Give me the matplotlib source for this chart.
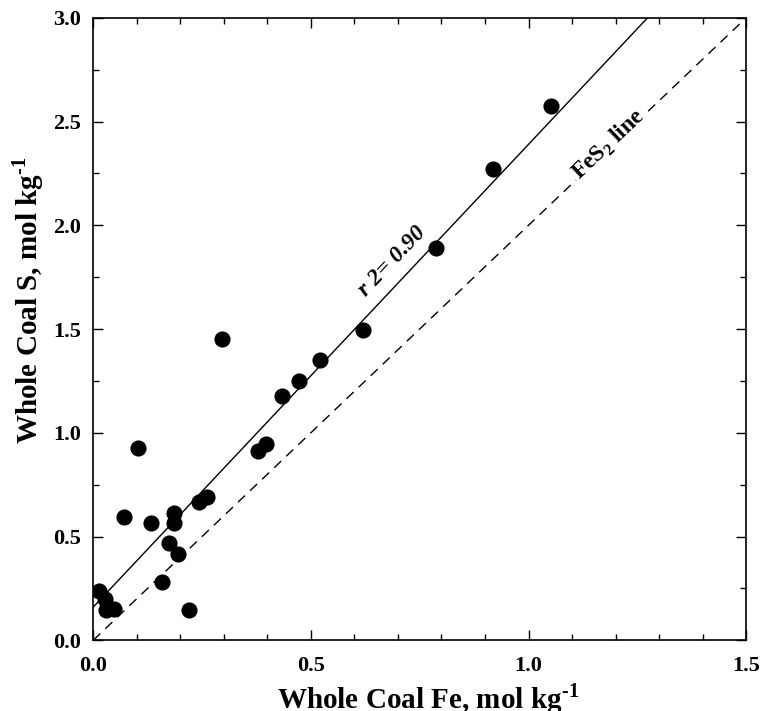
import numpy as np
import matplotlib
matplotlib.use("Agg")
import matplotlib.pyplot as plt
from matplotlib.ticker import MultipleLocator

plt.rcParams["font.family"] = ["Liberation Serif", "DejaVu Serif"]
plt.rcParams["mathtext.fontset"] = "custom"
plt.rcParams["mathtext.rm"] = "Liberation Serif:bold"
plt.rcParams["mathtext.bf"] = "Liberation Serif:bold"

# whole coal Fe vs S, mol/kg
coal_fe = [1.052, 0.918, 0.787, 0.619, 0.521, 0.472, 0.433, 0.295, 0.398, 0.378,
           0.102, 0.070, 0.132, 0.185, 0.185, 0.243, 0.261, 0.174, 0.194, 0.157,
           0.219, 0.013, 0.026, 0.029, 0.047]
coal_s = [2.576, 2.272, 1.891, 1.495, 1.351, 1.249, 1.177, 1.454, 0.947, 0.910,
          0.928, 0.594, 0.565, 0.613, 0.565, 0.667, 0.691, 0.469, 0.415, 0.280,
          0.145, 0.237, 0.198, 0.145, 0.150]

# regression fit and pyrite stoichiometry (S = 2 Fe)
fit_intercept = 0.16
fit_slope = 2.23
pyrite_ratio = 2.0

fig = plt.figure(figsize=(7.61, 7.11), dpi=100)
ax = fig.add_axes([0.1225, 0.0995, 0.858, 0.8755])

xx = np.array([0.0, 1.5])
ax.plot(xx, fit_intercept + fit_slope * xx, color="black", lw=1.0, zorder=2)
ax.plot(xx, pyrite_ratio * xx, color="black", lw=1.0, dashes=(7, 5), zorder=2)
ax.scatter(coal_fe, coal_s, s=135, color="black", zorder=3, linewidths=0)

ax.set_xlim(0, 1.5)
ax.set_ylim(0, 3.0)
ax.xaxis.set_major_locator(MultipleLocator(0.5))
ax.xaxis.set_minor_locator(MultipleLocator(0.1))
ax.yaxis.set_major_locator(MultipleLocator(0.5))
ax.yaxis.set_minor_locator(MultipleLocator(0.25))
ax.xaxis.set_major_formatter(lambda v, p: f"{v:.1f}")
ax.yaxis.set_major_formatter(lambda v, p: f"{v:.1f}")
ax.tick_params(which="both", direction="in", top=True, right=True, width=1.0)
ax.tick_params(which="major", length=7, labelsize=16)
ax.tick_params(axis="x", which="major", pad=11)
ax.tick_params(axis="y", which="major", pad=9)
ax.tick_params(which="minor", length=4)
for lbl in ax.get_xticklabels() + ax.get_yticklabels():
    lbl.set_fontweight("bold")
for sp in ax.spines.values():
    sp.set_linewidth(1.2)

# plain hyphen in the exponent, not a math minus
unit = "mol kg$^{\\mathbf{\u20101}}$"
ax.set_xlabel(f"Whole Coal Fe, {unit}", fontsize=21, fontweight="bold")
ax.set_ylabel(f"Whole Coal S, {unit}", fontsize=21, fontweight="bold")
ax.xaxis.set_label_coords(0.513, -0.066)
ax.yaxis.set_label_coords(-0.072, 0.547)

ax.text(0.688, 1.826, "r 2= 0.90", fontsize=17, fontweight="bold", fontstyle="italic",
        rotation=46.5, ha="center", va="center", rotation_mode="anchor")
ax.text(1.185, 2.39, r"FeS$_{\mathbf{2}}$ line", fontsize=17, fontweight="bold",
        rotation=43.5, ha="center", va="center", rotation_mode="anchor",
        bbox=dict(facecolor="white", edgecolor="none", pad=2))

fig.savefig("out.png", dpi=100)
